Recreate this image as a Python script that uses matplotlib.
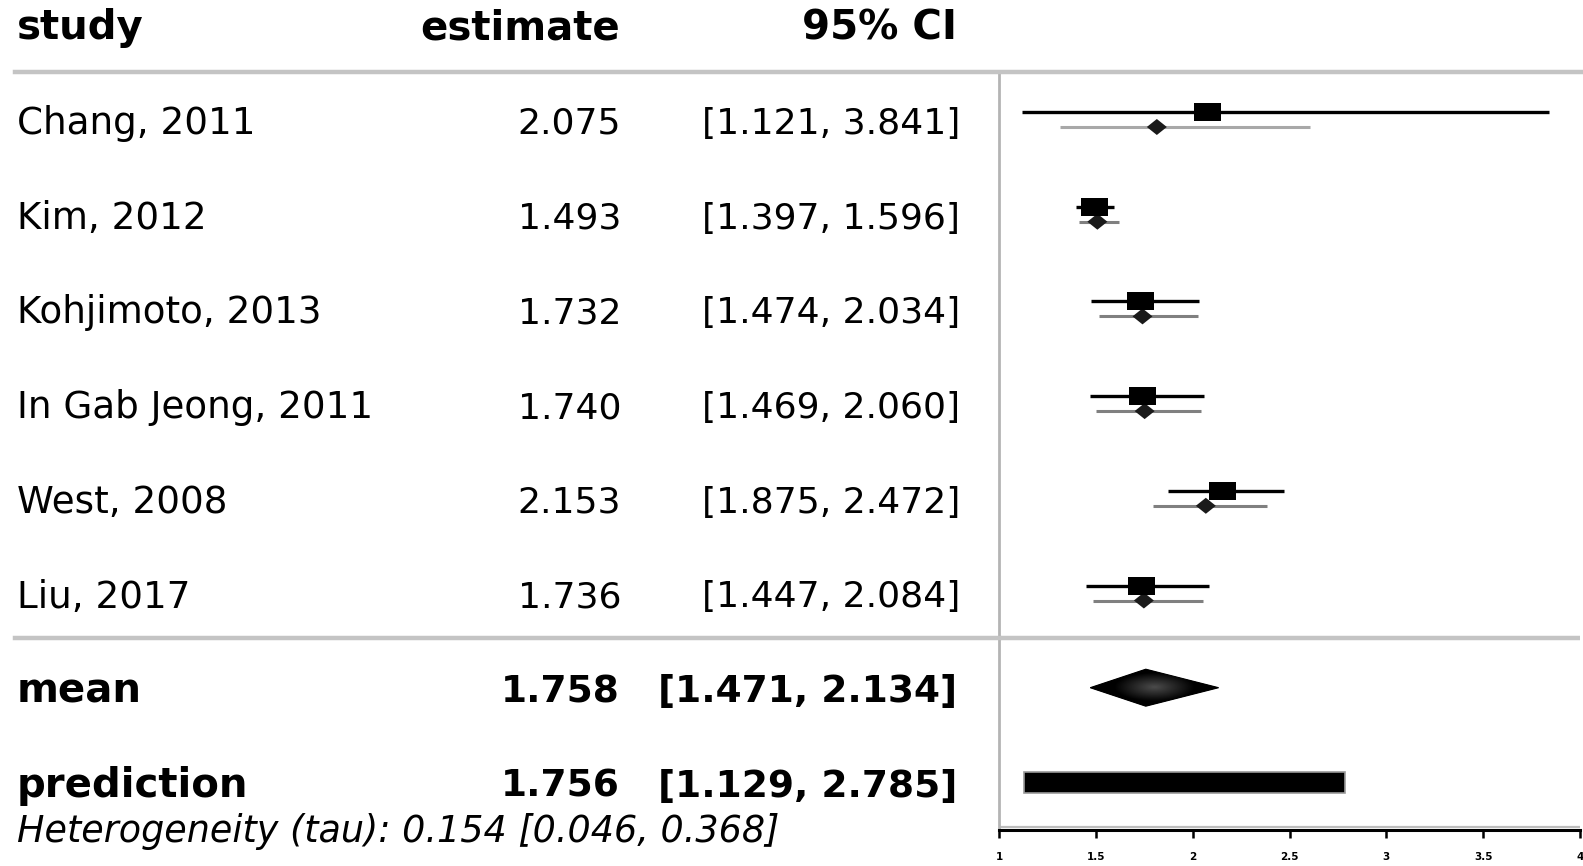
import numpy as np
import matplotlib
matplotlib.use("Agg")
import matplotlib.pyplot as plt
from matplotlib.patches import Rectangle, Polygon
from matplotlib.lines import Line2D

# ---- data -------------------------------------------------------------
studies = ["Chang, 2011", "Kim, 2012", "Kohjimoto, 2013",
           "In Gab Jeong, 2011", "West, 2008", "Liu, 2017"]
estimate = [2.075, 1.493, 1.732, 1.740, 2.153, 1.736]
ci_lower = [1.121, 1.397, 1.474, 1.469, 1.875, 1.447]
ci_upper = [3.841, 1.596, 2.034, 2.060, 2.472, 2.084]

# shrinkage (posterior) estimates per study
shrink_est = [1.815, 1.508, 1.741, 1.752, 2.068, 1.748]
shrink_lower = [1.317, 1.415, 1.516, 1.501, 1.797, 1.485]
shrink_upper = [2.605, 1.618, 2.030, 2.042, 2.384, 2.054]

summary_labels = ["mean", "prediction"]
summary_est = [1.758, 1.756]
summary_lower = [1.471, 1.129]
summary_upper = [2.134, 2.785]

tau = [0.154, 0.046, 0.368]

x_ticks = [1, 1.5, 2, 2.5, 3, 3.5, 4]
x_tick_labels = ["1", "1.5", "2", "2.5", "3", "3.5", "4"]

# ---- layout helpers -----------------------------------------------------
W, H = 1583, 866
fig = plt.figure(figsize=(W / 100, H / 100), dpi=100)
plt.rcParams["font.family"] = ["DejaVu Sans"]


def fx(px):
    return px / W


def fy(px):
    return 1 - px / H


ROW0, STEP = 119.5, 94.7          # pixel centre of the first row, row pitch
TOP_PX, BOT_PX = 72.0, 829.5
AX_L, AX_R = 999.0, 1580.0

ax = fig.add_axes([fx(AX_L), fy(BOT_PX), fx(AX_R) - fx(AX_L),
                   (BOT_PX - TOP_PX) / H])
ax.set_xlim(1, 4)
ax.set_ylim((BOT_PX - ROW0) / STEP, (TOP_PX - ROW0) / STEP)
ax.set_facecolor("white")

for s in ("top", "right"):
    ax.spines[s].set_visible(False)
ax.spines["left"].set_color("#b4b4b4")
ax.spines["left"].set_linewidth(2.0)
ax.spines["bottom"].set_color("black")
ax.spines["bottom"].set_linewidth(2.2)
ax.set_yticks([])
ax.set_xticks(x_ticks)
ax.set_xticklabels(x_tick_labels, fontsize=7.5, fontweight="bold")
ax.tick_params(axis="x", direction="out", length=6, width=1.8, pad=10,
               colors="black")
for lab in ax.get_xticklabels():
    lab.set_clip_on(False)

OFF = 7.5 / STEP
BOX_W = 27 / ((AX_R - AX_L) / 3)
BOX_H = 18 / STEP
DIA_HW = 10.0 / ((AX_R - AX_L) / 3)
DIA_HH = 8.0 / STEP

# study estimates and shrinkage estimates
for k in range(len(studies)):
    ax.plot([ci_lower[k], ci_upper[k]], [k - OFF, k - OFF], color="black",
            lw=2.4, solid_capstyle="butt", zorder=3)
    ax.add_patch(Rectangle((estimate[k] - BOX_W / 2, k - OFF - BOX_H / 2),
                           BOX_W, BOX_H, facecolor="black",
                           edgecolor="none", zorder=4))
    ax.plot([shrink_lower[k], shrink_upper[k]], [k + OFF, k + OFF],
            color="#808080" if k else "#a8a8a8", lw=2.2,
            solid_capstyle="butt", zorder=2)
    m = shrink_est[k]
    ax.add_patch(Polygon([(m - DIA_HW, k + OFF), (m, k + OFF - DIA_HH),
                          (m + DIA_HW, k + OFF), (m, k + OFF + DIA_HH)],
                         closed=True, facecolor="#1a1a1a", edgecolor="none",
                         zorder=3))

# separator between studies and summary rows
ax.axhline((638 - ROW0) / STEP, color="#c4c4c4", lw=3.2, zorder=1)
ax.axhline((826.5 - ROW0) / STEP, color="#bdbdbd", lw=1.6, zorder=1)

# mean: shaded diamond
k_mean = len(studies)
hh = 18.5 / STEP
diamond = Polygon([(summary_lower[0], k_mean), (summary_est[0], k_mean - hh),
                   (summary_upper[0], k_mean), (summary_est[0], k_mean + hh)],
                  closed=True, facecolor="black", edgecolor="black", lw=0.8,
                  zorder=3)
ax.add_patch(diamond)
gx, gy = np.meshgrid(np.linspace(-1, 1, 200), np.linspace(-1, 1, 60))
shade = np.clip(1 - np.sqrt((gx * 1.6) ** 2 + (gy * 1.3) ** 2), 0, 1) * 0.30
img = ax.imshow(shade, cmap="gray", vmin=0, vmax=1, aspect="auto",
                extent=(summary_lower[0], summary_upper[0],
                        k_mean + hh, k_mean - hh), zorder=4,
                interpolation="bilinear")
img.set_clip_path(diamond)

# prediction interval bar
k_pred = len(studies) + 1
ax.add_patch(Rectangle((summary_lower[1], k_pred - 10.5 / STEP),
                       summary_upper[1] - summary_lower[1], 21 / STEP,
                       facecolor="black", edgecolor="#9a9a9a", lw=1.2,
                       zorder=3))

# ---- table text ---------------------------------------------------------
fig.add_artist(Line2D([fx(15), 1], [fy(72), fy(72)], color="#c4c4c4",
                      lw=3.2))
fig.add_artist(Line2D([fx(15), fx(AX_L)], [fy(638), fy(638)],
                      color="#c4c4c4", lw=3.2))

X_STUDY, X_EST, X_CI = 17, 621, 960
NAME, NUM = 26.8, 26.0
BOLD_WORD, BOLD_NUM = 29.0, 27.0


def base(k):
    return fy(134 + STEP * k)


fig.text(fx(X_STUDY), fy(39), "study", fontsize=BOLD_WORD,
         fontweight="bold", ha="left", va="baseline")
fig.text(fx(X_EST - 1), fy(39), "estimate", fontsize=BOLD_WORD,
         fontweight="bold", ha="right", va="baseline")
fig.text(fx(X_CI - 3), fy(39), "95% CI", fontsize=BOLD_WORD,
         fontweight="bold", ha="right", va="baseline")

for k, name in enumerate(studies):
    fig.text(fx(X_STUDY), base(k), name, fontsize=NAME, ha="left",
             va="baseline")
    fig.text(fx(X_EST), base(k), f"{estimate[k]:.3f}", fontsize=NUM,
             ha="right", va="baseline")
    fig.text(fx(X_CI), base(k), f"[{ci_lower[k]:.3f}, {ci_upper[k]:.3f}]",
             fontsize=NUM, ha="right", va="baseline")

for j, name in enumerate(summary_labels):
    k = len(studies) + j
    fig.text(fx(X_STUDY), base(k), name, fontsize=BOLD_WORD,
             fontweight="bold", ha="left", va="baseline")
    fig.text(fx(X_EST - 1), base(k), f"{summary_est[j]:.3f}",
             fontsize=BOLD_NUM, fontweight="bold", ha="right", va="baseline")
    fig.text(fx(X_CI - 3), base(k),
             f"[{summary_lower[j]:.3f}, {summary_upper[j]:.3f}]",
             fontsize=BOLD_NUM, fontweight="bold", ha="right", va="baseline")

fig.text(fx(X_STUDY), fy(842),
         f"Heterogeneity (tau): {tau[0]:.3f} [{tau[1]:.3f}, {tau[2]:.3f}]",
         fontsize=26.3, fontstyle="italic", ha="left", va="baseline")

fig.savefig("out.png", dpi=100, facecolor="white")
